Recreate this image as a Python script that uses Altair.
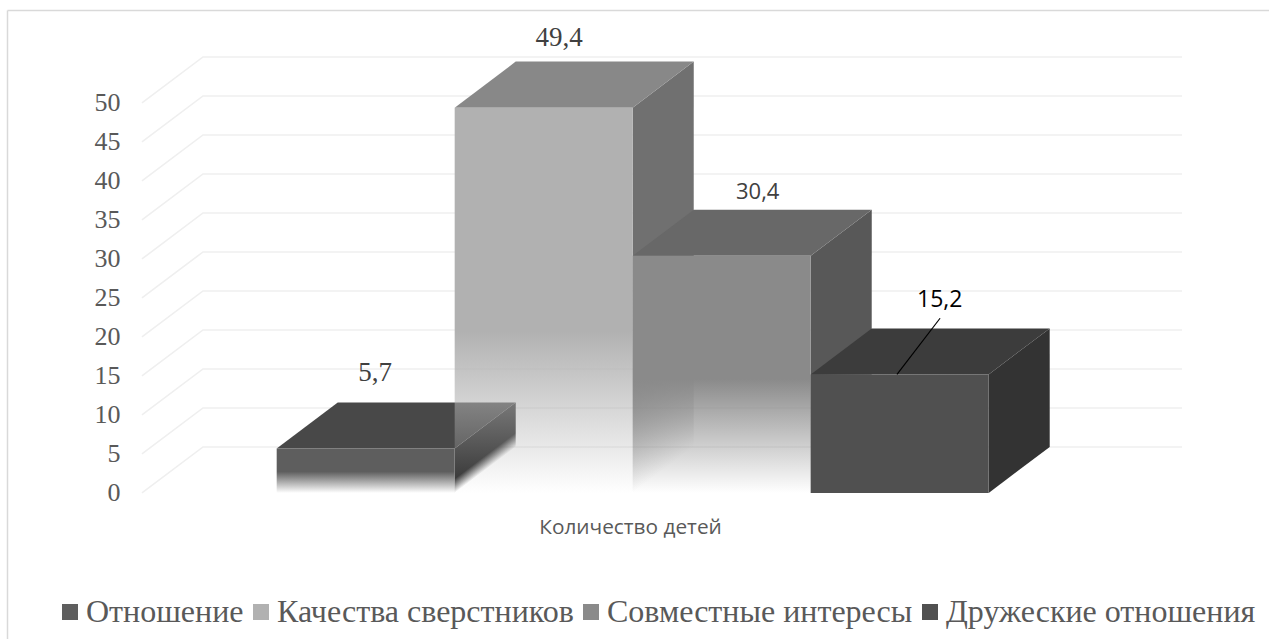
import altair as alt
import pandas as pd

# Survey results shown as pseudo-3D columns
categories = ["Отношение", "Качества сверстников", "Совместные интересы", "Дружеские отношения"]
values = [5.7, 49.4, 30.4, 15.2]
y_ticks = [0, 5, 10, 15, 20, 25, 30, 35, 40, 45, 50]
axis_title = "Количество детей"

# Leader line of the last column's label: (slot position, value)
leader_x = [3.485, 3.727]
leader_y = [15.2, 22.4]

# Shading of each column: front, top, side, where the front and side fades start
shades = [
    {"front": (94, 94, 94), "top": (72, 72, 72), "side": (48, 48, 48), "fade": 0.52, "side_fade": 0.68},
    {"front": (177, 177, 177), "top": (136, 136, 136), "side": (112, 112, 112), "fade": 0.58, "side_fade": 0.58},
    {"front": (138, 138, 138), "top": (104, 104, 104), "side": (88, 88, 88), "fade": 0.52, "side_fade": 0.52},
    {"front": (80, 80, 80), "top": (60, 60, 60), "side": (51, 51, 51), "fade": None, "side_fade": None},
]
label_styles = [
    {"font": "Liberation Serif", "size": 27, "color": "#404040", "dx": -21, "dy": -29},
    {"font": "Liberation Serif", "size": 27, "color": "#404040", "dx": -15, "dy": -24},
    {"font": "Open Sans", "size": 22, "color": "#404040", "dx": 5.5, "dy": -18},
    {"font": "Open Sans", "size": 23, "color": "#000000", "dx": 9.5, "dy": -28},
]

# Oblique projection: how far the back of the scene is shifted, in scale units
DEPTH_X = 0.343
DEPTH_Y = 5.9
GRID_LEFT = -0.757
GRID_RIGHT = 5.086

SERIF = "Liberation Serif"
TEXT_GREY = "#595959"

x_scale = alt.Scale(domain=[-1.5545, 5.575], nice=False, zero=False)
y_scale = alt.Scale(domain=[-18.72, 63.2], nice=False, zero=False)
x_axis = alt.Axis(
    title=axis_title, labels=False, ticks=False, domain=False, grid=False,
    titleFont="Open Sans", titleFontSize=20.8, titleFontWeight="normal", titleColor=TEXT_GREY,
    titleX=630, titleY=-112, titleAnchor="middle", titleAlign="center", titleBaseline="middle",
)
y_axis = alt.Axis(
    title=None, values=y_ticks, offset=-120, labelPadding=0, ticks=False, domain=False, grid=False,
    labelFont=SERIF, labelFontSize=26, labelColor=TEXT_GREY,
)


def rgba(rgb, alpha):
    return f"rgba({rgb[0]},{rgb[1]},{rgb[2]},{alpha})"


def fade_stops(rgb, fade):
    if fade is None:
        return [alt.GradientStop(offset=0, color=rgba(rgb, 1)), alt.GradientStop(offset=1, color=rgba(rgb, 1))]
    return [
        alt.GradientStop(offset=0, color=rgba(rgb, 1)),
        alt.GradientStop(offset=fade, color=rgba(rgb, 1)),
        alt.GradientStop(offset=1, color=rgba(rgb, 0)),
    ]


def xq():
    return alt.X("x:Q", scale=x_scale, axis=x_axis)


def yq():
    return alt.Y("y:Q", scale=y_scale, axis=y_axis)


# Floor and back-wall grid: one polyline per tick value
grid_rows = []
for tick in y_ticks:
    grid_rows += [
        {"tick": tick, "x": GRID_LEFT, "y": tick},
        {"tick": tick, "x": GRID_LEFT + DEPTH_X, "y": tick + DEPTH_Y},
        {"tick": tick, "x": GRID_RIGHT, "y": tick + DEPTH_Y},
    ]

grid = alt.Chart(pd.DataFrame(grid_rows)).mark_line(color="#efefef", strokeWidth=1.6).encode(
    x=xq(), y=yq(), detail="tick:N", order="x:Q"
)

frame = [
    alt.Chart(pd.DataFrame({"a": [0]})).mark_rule(color="#d9d9d9", strokeWidth=1.5).encode(
        x=alt.value(7.5), y=alt.value(10.5), y2=alt.value(639)
    ),
    alt.Chart(pd.DataFrame({"a": [0]})).mark_rule(color="#d9d9d9", strokeWidth=1.5).encode(
        x=alt.value(7.5), x2=alt.value(1269), y=alt.value(10.5)
    ),
]

# Columns, left to right: each later front face fades over what stands behind it
column_layers = []
for i, (value, shade) in enumerate(zip(values, shades)):
    x0, x1 = float(i), float(i + 1)

    top_rows = [
        {"x": x0, "y": value, "y2": value},
        {"x": x0 + DEPTH_X, "y": value, "y2": value + DEPTH_Y},
        {"x": x1, "y": value, "y2": value + DEPTH_Y},
        {"x": x1 + DEPTH_X, "y": value + DEPTH_Y, "y2": value + DEPTH_Y},
    ]
    side_rows = [
        {"x": x1, "y": 0, "y2": value},
        {"x": x1 + DEPTH_X, "y": DEPTH_Y, "y2": value + DEPTH_Y},
    ]

    top = alt.Chart(pd.DataFrame(top_rows)).mark_area(color=rgba(shade["top"], 1), orient="vertical").encode(
        x=xq(), y=yq(), y2="y2:Q"
    )

    # The side's fade runs across its slanted edges, in bounding-box units
    box_height = value + DEPTH_Y
    slope = DEPTH_Y / box_height
    reach = (value / box_height) / (1 + slope ** 2)
    start = 0.3
    side_gradient = alt.Gradient(
        gradient="linear",
        x1=start,
        y1=slope * (1 - start),
        x2=start + reach * slope,
        y2=slope * (1 - start) + reach,
        stops=fade_stops(shade["side"], shade["side_fade"]),
    )
    side = alt.Chart(pd.DataFrame(side_rows)).mark_area(color=side_gradient, orient="vertical").encode(
        x=xq(), y=yq(), y2="y2:Q"
    )

    front_gradient = alt.Gradient(
        gradient="linear", x1=0, y1=0, x2=0, y2=1, stops=fade_stops(shade["front"], shade["fade"])
    )
    front = alt.Chart(pd.DataFrame({"x": [x0], "x2": [x1], "y": [0.0], "y2": [value]})).mark_rect(color=front_gradient).encode(
        x=xq(), x2="x2:Q", y=yq(), y2="y2:Q"
    )
    column_layers += [side, top, front]

# Value labels above each column
label_layers = []
for i, (value, style) in enumerate(zip(values, label_styles)):
    row = {"x": i + 0.5 + DEPTH_X / 2, "y": value + DEPTH_Y, "label": str(value).replace(".", ",")}
    label_layers.append(
        alt.Chart(pd.DataFrame([row])).mark_text(
            font=style["font"], fontSize=style["size"], color=style["color"],
            dx=style["dx"], dy=style["dy"], align="center", baseline="middle",
        ).encode(x=xq(), y=yq(), text="label:N")
    )

leader = alt.Chart(pd.DataFrame({"x": leader_x, "y": leader_y})).mark_line(color="#000000", strokeWidth=1.2).encode(
    x=xq(), y=yq()
)

# Zero-sized points that only carry the legend
legend_source = alt.Chart(pd.DataFrame({"cat": categories, "x": [0.0] * 4, "y": [0.0] * 4})).mark_square(size=0, opacity=1).encode(
    x=xq(),
    y=yq(),
    fill=alt.Fill(
        "cat:N",
        sort=categories,
        scale=alt.Scale(domain=categories, range=["#5e5e5e", "#b1b1b1", "#8a8a8a", "#505050"]),
        legend=alt.Legend(
            orient="none", legendX=54, legendY=596, direction="horizontal", columns=4, title=None,
            symbolType="square", symbolSize=256, symbolStrokeWidth=0, symbolOpacity=1,
            labelFont=SERIF, labelFontSize=32, labelColor=TEXT_GREY, labelLimit=400, labelOffset=0,
            columnPadding=1, gridAlign="none",
        ),
    ),
)

chart = alt.layer(grid, *frame, *column_layers, leader, *label_layers, legend_source).properties(
    width=1269,
    height=639,
    padding=0,
    autosize=alt.AutoSizeParams(type="none"),
    background="white",
).configure_view(stroke=None)

chart.save("out.html", embed_options={"renderer": "svg", "actions": False})
